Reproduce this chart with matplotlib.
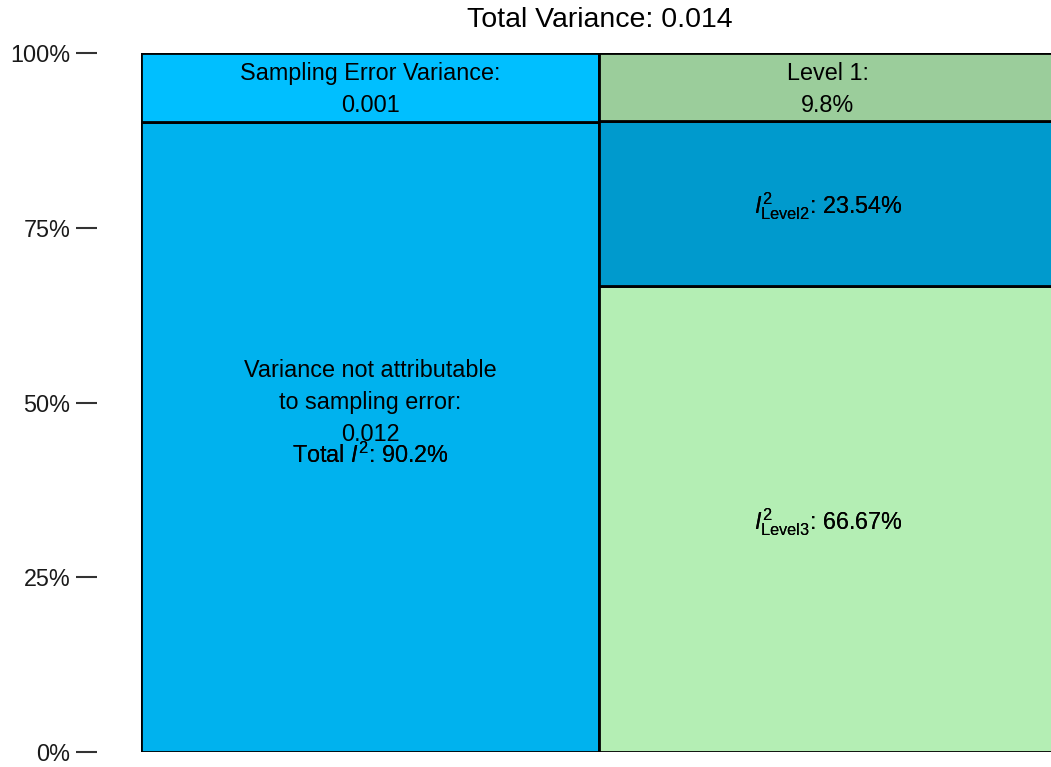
import matplotlib.pyplot as plt

plt.rcParams['font.family'] = ['Liberation Sans', 'DejaVu Sans']
plt.rcParams['mathtext.fontset'] = 'custom'
plt.rcParams['mathtext.rm'] = 'Liberation Sans'
plt.rcParams['mathtext.it'] = 'Liberation Sans:italic'

# Data
total_variance = 0.014
sampling_variance = 0.001
non_sampling_variance = 0.012
level_names = ['Level 1', 'Level2', 'Level3']
level_pct = [9.8, 23.54, 66.67]
total_i2 = 90.2

fig = plt.figure(figsize=(10.51, 7.67), dpi=100)
ax = fig.add_axes([141 / 1051, 1 - 752 / 767, 916 / 1051, 699 / 767])

edge = dict(edgecolor='black', linewidth=2.0)

# left column: sampling error share on top, the rest below
left_pct = [total_i2, 100 - total_i2]
left_colors = ['#00B2EE', '#00BFFF']
bottom = 0
for p, c in zip(left_pct, left_colors):
    ax.bar(0, p, width=1, bottom=bottom, align='edge', color=c, **edge)
    bottom += p

# right column: level 3 at bottom, level 2, level 1 on top
right_colors = {'Level 1': '#9BCD9B', 'Level2': '#009ACD', 'Level3': '#B4EEB4'}
bottom = 0
mids = {}
for name, p in zip(level_names[::-1], level_pct[::-1]):
    ax.bar(1, p, width=1, bottom=bottom, align='edge', color=right_colors[name], **edge)
    mids[name] = bottom + p / 2
    bottom += p

fs = 16.8
ls = 1.52
ax.text(0.5, 100 - (100 - total_i2) / 2 - 0.3, f"Sampling Error Variance:\n{sampling_variance:.3f}",
        ha='center', va='center', fontsize=fs, linespacing=ls)
ax.text(1.5, mids['Level 1'] - 0.3, f"Level 1:\n{level_pct[0]}%",
        ha='center', va='center', fontsize=fs, linespacing=ls)
ax.text(0.5, 50, f"Variance not attributable\nto sampling error:\n{non_sampling_variance:.3f}",
        ha='center', va='center', fontsize=fs, linespacing=ls)
for _ in range(2):
    ax.text(0.5, total_i2 / 2 - 0.9, "Total $I^2$: 90.2%", ha='center', va='top', fontsize=fs)
    ax.text(1.5, mids['Level2'] - 0.4, r"$I^2_{\mathrm{Level2}}$: " + f"{level_pct[1]}%",
            ha='center', va='center', fontsize=fs)
    ax.text(1.5, mids['Level3'] - 0.4, r"$I^2_{\mathrm{Level3}}$: " + f"{level_pct[2]}%",
            ha='center', va='center', fontsize=fs)

ax.set_xlim(0, 2)
ax.set_ylim(0, 100)
ax.set_yticks([0, 25, 50, 75, 100])
ax.set_yticklabels(['0%', '25%', '50%', '75%', '100%'])
ax.set_xticks([])
for s in ['top', 'right', 'bottom']:
    ax.spines[s].set_visible(False)
ax.spines['left'].set_position(('outward', 32))
ax.spines['left'].set_visible(False)
ax.tick_params(axis='y', length=15, width=1.5, color='#333333', pad=4, labelsize=fs,
               labelcolor='#1a1a1a')
ax.patch.set_visible(False)

fig.text(600 / 1051, 1 - 20 / 767, f"Total Variance: {total_variance:.3f}",
         ha='center', va='center', fontsize=20.5)

fig.savefig('out.png', dpi=100)
